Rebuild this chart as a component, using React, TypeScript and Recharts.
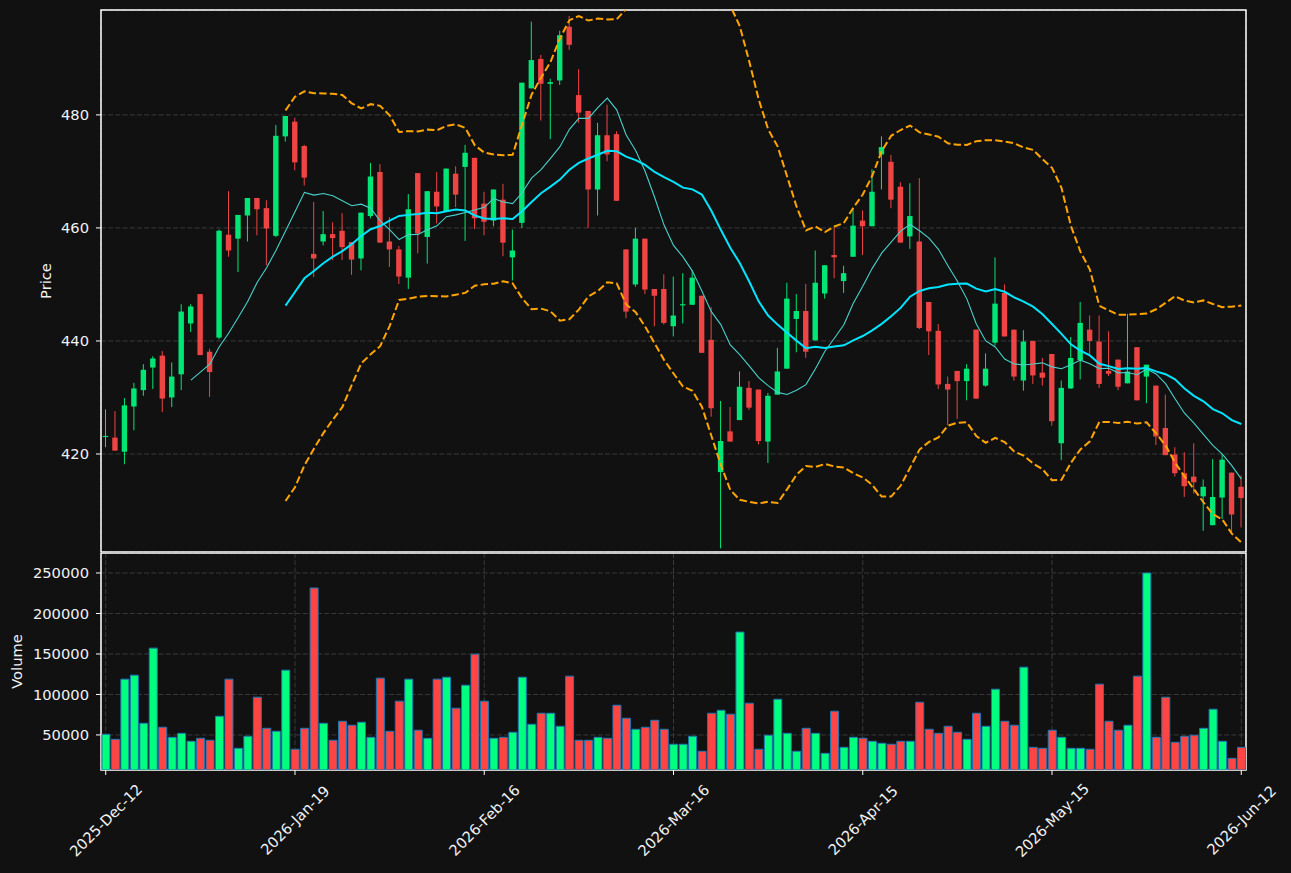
import React from "react";
import {
  ComposedChart,
  Bar,
  Line,
  XAxis,
  YAxis,
  CartesianGrid,
  Cell,
  ReferenceArea,
} from "recharts";

const opens = [
  423.0, 422.9, 420.4, 428.4, 431.3, 435.3, 437.4, 430.0, 434.1, 443.1,
  448.3, 438.1, 440.6, 458.8, 458.1, 462.2, 465.3, 463.5, 458.6, 476.2,
  478.8, 474.5, 455.4, 457.6, 458.9, 459.5, 457.5, 454.6, 462.1, 469.9,
  457.6, 456.2, 451.2, 469.7, 458.4, 466.4, 462.9, 469.6, 470.8, 472.4,
  464.3, 461.3, 465.0, 454.8, 460.9, 484.7, 489.9, 485.5, 486.1, 495.6,
  483.5, 480.7, 466.8, 476.4, 476.6, 456.2, 450.0, 458.1, 449.2, 449.2,
  442.6, 446.3, 446.4, 448.0, 440.2, 416.8, 424.0, 426.0, 431.7, 431.4,
  422.2, 430.5, 435.1, 443.9, 445.3, 440.1, 448.4, 455.2, 450.6, 454.9,
  461.3, 460.3, 473.0, 471.7, 467.3, 458.5, 457.6, 446.9, 441.8, 432.4,
  434.7, 432.9, 442.0, 432.1, 439.7, 448.5, 442.0, 433.0, 440.0, 434.4,
  437.7, 421.9, 431.6, 436.6, 442.0, 439.9, 434.7, 436.7, 432.5, 438.9,
  433.7, 432.1, 424.6, 419.9, 416.6, 416.0, 412.5, 407.4, 412.3, 416.7,
  414.2,
];
const highs = [
  427.9, 427.6, 429.9, 432.6, 435.9, 437.3, 438.2, 436.2, 446.5, 446.5,
  448.3, 438.6, 459.7, 466.5, 462.3, 465.3, 465.3, 464.9, 478.2, 479.8,
  479.5, 474.7, 464.6, 463.0, 461.0, 462.6, 457.5, 462.7, 471.5, 471.3,
  461.9, 456.8, 466.0, 469.7, 466.5, 469.9, 470.5, 470.9, 474.7, 472.4,
  466.4, 466.8, 467.8, 459.7, 485.7, 496.5, 490.6, 486.4, 494.9, 497.5,
  488.1, 480.7, 478.6, 481.8, 477.1, 456.2, 460.0, 458.1, 449.2, 451.8,
  451.4, 452.0, 452.5, 448.0, 446.0, 429.4, 428.3, 434.6, 432.9, 431.4,
  430.8, 438.8, 450.3, 448.3, 450.1, 456.0, 453.4, 460.2, 453.3, 463.5,
  463.1, 470.4, 476.2, 472.9, 468.1, 467.9, 468.8, 446.9, 443.0, 433.7,
  434.7, 435.9, 442.0, 437.8, 454.8, 450.0, 442.0, 441.9, 440.0, 437.0,
  437.7, 433.0, 440.7, 446.9, 444.5, 444.5, 441.7, 436.7, 444.8, 438.9,
  435.8, 432.1, 430.5, 421.2, 420.3, 421.9, 415.5, 419.1, 420.0, 416.7,
  416.2,
];
const lows = [
  421.2, 420.6, 418.2, 424.2, 430.3, 431.5, 427.4, 428.3, 431.3, 441.6,
  437.5, 430.1, 440.3, 454.9, 452.2, 457.6, 458.7, 453.4, 458.4, 475.3,
  470.2, 467.5, 451.3, 456.9, 454.3, 454.3, 451.7, 452.5, 461.7, 457.4,
  453.1, 450.1, 449.2, 455.5, 453.7, 460.8, 462.9, 463.7, 457.7, 459.8,
  458.7, 460.3, 455.0, 450.7, 460.0, 484.7, 479.0, 475.7, 485.3, 491.5,
  478.6, 460.0, 462.2, 471.8, 464.8, 444.0, 449.6, 448.3, 442.6, 442.9,
  440.8, 443.1, 446.4, 437.9, 426.6, 403.3, 422.2, 426.0, 427.8, 421.7,
  418.4, 430.5, 435.1, 438.0, 437.0, 440.1, 447.5, 451.1, 448.5, 454.9,
  455.2, 460.3, 466.8, 463.5, 457.4, 456.3, 442.1, 437.5, 431.5, 425.1,
  426.2, 429.5, 429.8, 431.9, 439.2, 440.8, 433.0, 431.2, 432.4, 432.1,
  425.0, 418.9, 431.5, 433.2, 437.7, 431.7, 433.8, 431.3, 432.5, 429.5,
  429.0, 421.6, 419.8, 416.0, 412.4, 413.0, 406.4, 407.4, 408.5, 406.1,
  407.0,
];
const closes = [
  423.2, 420.6, 428.6, 431.6, 434.9, 436.9, 429.8, 433.7, 445.2, 446.1,
  437.5, 434.5, 459.5, 456.0, 462.3, 465.3, 463.3, 459.9, 476.3, 479.8,
  471.6, 468.9, 454.6, 458.9, 458.2, 456.6, 454.4, 462.7, 469.1, 457.4,
  456.2, 451.4, 463.3, 459.0, 466.5, 463.8, 470.5, 465.9, 473.3, 461.7,
  461.1, 466.8, 457.4, 456.0, 485.7, 489.7, 485.5, 485.8, 494.1, 492.4,
  480.4, 466.8, 476.4, 473.0, 464.8, 445.2, 458.1, 449.1, 448.0, 443.2,
  444.5, 446.5, 451.2, 437.9, 428.1, 422.3, 422.2, 431.9, 428.2, 422.3,
  430.3, 434.6, 447.5, 445.3, 438.1, 450.3, 453.4, 454.8, 452.0, 460.4,
  460.3, 466.4, 474.3, 465.0, 457.4, 462.1, 442.3, 441.7, 432.3, 431.4,
  432.9, 435.1, 429.8, 435.1, 446.6, 440.8, 433.7, 439.9, 433.9, 433.5,
  425.8, 431.7, 437.0, 443.2, 440.0, 432.4, 434.2, 431.9, 434.6, 429.5,
  435.8, 423.1, 419.8, 416.6, 414.3, 415.0, 414.2, 412.4, 419.0, 409.3,
  412.2,
];
const volumes = [
  50800, 44600, 118900, 123800, 64400, 157200, 59500, 47100, 52000, 42200,
  45900, 43400, 73100, 118900, 33500, 48400, 96600, 58200, 54500, 130000,
  32300, 58200, 231500, 64400, 43400, 66900, 62000, 65700, 47100, 120100,
  54500, 91700, 118900, 55800, 45900, 118900, 121300, 83000, 111400, 149800,
  91700, 45900, 47100, 53300, 121300, 63200, 76800, 76800, 60700, 122600,
  43400, 43400, 47100, 45900, 86700, 70600, 57000, 59500, 68100, 57000,
  38500, 38500, 48400, 29800, 76800, 80500, 75600, 177000, 89200, 32300,
  49600, 94100, 52000, 29800, 58200, 52000, 27300, 79300, 34700, 47100,
  45900, 42200, 39700, 38500, 42200, 42200, 90400, 57000, 52000, 60700,
  53300, 44600, 76800, 60700, 106500, 66900, 62000, 133700, 34700, 33500,
  55800, 47100, 33500, 33500, 32300, 112700, 66900, 55800, 62000, 122600,
  250000, 47100, 96600, 40900, 48400, 49600, 58200, 81800, 42200, 21100,
  34700,
];

const tickIdx = [0, 20, 40, 60, 80, 100, 120];
const tickLabels = [
  "2025-Dec-12",
  "2026-Jan-19",
  "2026-Feb-16",
  "2026-Mar-16",
  "2026-Apr-15",
  "2026-May-15",
  "2026-Jun-12",
];
const priceTicks = [420, 440, 460, 480];
const volTicks = [50000, 100000, 150000, 200000, 250000];
const priceDomain = [402.66, 498.56];
const volDomain = [6700, 274700];

const FONT = "DejaVu Sans";
const FS = 14.7;
const TXT = "#f2f2f2";
const UP = "#00e676";
const DOWN = "#ef4444";
const VUP = "#00ff7f";
const VDOWN = "#ff4444";
const GRID = "#3a3a3a";

// moving average (k = 0) or bollinger band (k = +-2) over the closes
const rolling = (n: number, k: number) =>
  closes.map((_, i) => {
    if (i < n - 1) return null;
    const win = closes.slice(i - n + 1, i + 1);
    const m = win.reduce((a, b) => a + b, 0) / n;
    if (k === 0) return m;
    const sd = Math.sqrt(win.reduce((a, b) => a + (b - m) ** 2, 0) / n);
    return m + k * sd;
  });

const ma10 = rolling(10, 0);
const ma20 = rolling(20, 0);
const upper = rolling(20, 2);
const lower = rolling(20, -2);

const rows = closes.map((c, i) => ({
  i,
  o: opens[i],
  h: highs[i],
  l: lows[i],
  c,
  v: volumes[i],
  ma10: ma10[i],
  ma20: ma20[i],
  upper: upper[i],
  lower: lower[i],
}));

const Candle = (props: any) => {
  const { x, y, width, height, payload } = props;
  if (!payload || height == null) return null;
  const { o, h, l, c } = payload;
  const color = c >= o ? UP : DOWN;
  const py = (val: number) => y + ((h - val) / (h - l)) * height;
  const cx = x + width / 2;
  const bw = width * 0.6;
  const top = py(Math.max(o, c));
  const bot = py(Math.min(o, c));
  return (
    <g>
      <line x1={cx} x2={cx} y1={y} y2={y + height} stroke={color} strokeWidth={1} />
      <rect x={cx - bw / 2} y={top} width={bw} height={Math.max(bot - top, 1)} fill={color} />
    </g>
  );
};

const XTick = (props: any) => {
  const { x, y, payload } = props;
  const k = tickIdx.indexOf(payload.value);
  if (k < 0) return null;
  const cy = y + 43;
  return (
    <text
      x={x}
      y={cy}
      transform={`rotate(-45, ${x}, ${cy})`}
      textAnchor="middle"
      dominantBaseline="central"
      fill={TXT}
      fontSize={FS}
      fontFamily={FONT}
    >
      {tickLabels[k]}
    </text>
  );
};

const tickStyle = { fill: TXT, fontSize: FS, fontFamily: FONT };
const white = { stroke: "#ffffff", strokeWidth: 1 };

export default function App() {
  return (
    <div
      style={{
        position: "absolute",
        left: 0,
        top: 0,
        width: 1291,
        height: 873,
        background: "#111111",
        overflow: "hidden",
      }}
    >
      <div style={{ position: "absolute", left: 0, top: 0 }}>
        <ComposedChart
          width={1291}
          height={553}
          data={rows}
          margin={{ top: 10, right: 45, bottom: 0, left: 0 }}
          barCategoryGap={0}
        >
          <CartesianGrid stroke={GRID} strokeDasharray="5 2.2" />
          <XAxis
            dataKey="i"
            type="category"
            ticks={tickIdx}
            interval={0}
            tick={false}
            tickLine={false}
            height={1}
            axisLine={false}
          />
          <YAxis
            domain={priceDomain}
            allowDataOverflow
            ticks={priceTicks}
            width={101}
            tick={tickStyle}
            tickSize={5}
            tickMargin={7}
            tickLine={white}
            axisLine={false}
            label={{
              value: "Price",
              angle: -90,
              position: "center",
              dx: -4.5,
              fill: TXT,
              fontSize: FS,
              fontFamily: FONT,
            }}
          />
          <Bar
            dataKey={(d: any) => [d.l, d.h]}
            shape={<Candle />}
            isAnimationActive={false}
          />
          <Line
            dataKey="ma10"
            stroke="#48d1cc"
            strokeWidth={1.1}
            dot={false}
            activeDot={false}
            isAnimationActive={false}
          />
          <Line
            dataKey="ma20"
            stroke="#00e5ff"
            strokeWidth={2}
            dot={false}
            activeDot={false}
            isAnimationActive={false}
          />
          <Line
            dataKey="upper"
            stroke="#ffa500"
            strokeWidth={2}
            strokeDasharray="7.4 3.2"
            dot={false}
            activeDot={false}
            isAnimationActive={false}
          />
          <Line
            dataKey="lower"
            stroke="#ffa500"
            strokeWidth={2}
            strokeDasharray="7.4 3.2"
            dot={false}
            activeDot={false}
            isAnimationActive={false}
          />
          <ReferenceArea
            y1={priceDomain[0]}
            y2={priceDomain[1]}
            fill="none"
            fillOpacity={0}
            stroke="#ffffff"
            strokeWidth={1.5}
            ifOverflow="visible"
          />
        </ComposedChart>
      </div>

      <div style={{ position: "absolute", left: 0, top: 553 }}>
        <ComposedChart
          width={1291}
          height={320}
          data={rows}
          margin={{ top: 0, right: 45, bottom: 0, left: 0 }}
          barCategoryGap="10%"
        >
          <CartesianGrid stroke={GRID} strokeDasharray="5 2.2" />
          <XAxis
            dataKey="i"
            type="category"
            ticks={tickIdx}
            interval={0}
            height={103}
            tick={(p: any) => <XTick {...p} />}
            tickSize={5}
            tickLine={white}
            axisLine={false}
          />
          <YAxis
            domain={volDomain}
            allowDataOverflow
            ticks={volTicks}
            width={101}
            tick={tickStyle}
            tickSize={5}
            tickMargin={7}
            tickLine={white}
            axisLine={false}
            label={{
              value: "Volume",
              angle: -90,
              position: "center",
              dx: -33.5,
              fill: TXT,
              fontSize: FS,
              fontFamily: FONT,
            }}
          />
          <Bar dataKey="v" stroke="#1f77b4" strokeWidth={1} isAnimationActive={false}>
            {rows.map((r) => (
              <Cell key={r.i} fill={r.c >= r.o ? VUP : VDOWN} />
            ))}
          </Bar>
          <ReferenceArea
            y1={volDomain[0]}
            y2={volDomain[1]}
            fill="none"
            fillOpacity={0}
            stroke="#ffffff"
            strokeWidth={1.5}
            ifOverflow="visible"
          />
        </ComposedChart>
      </div>
    </div>
  );
}
